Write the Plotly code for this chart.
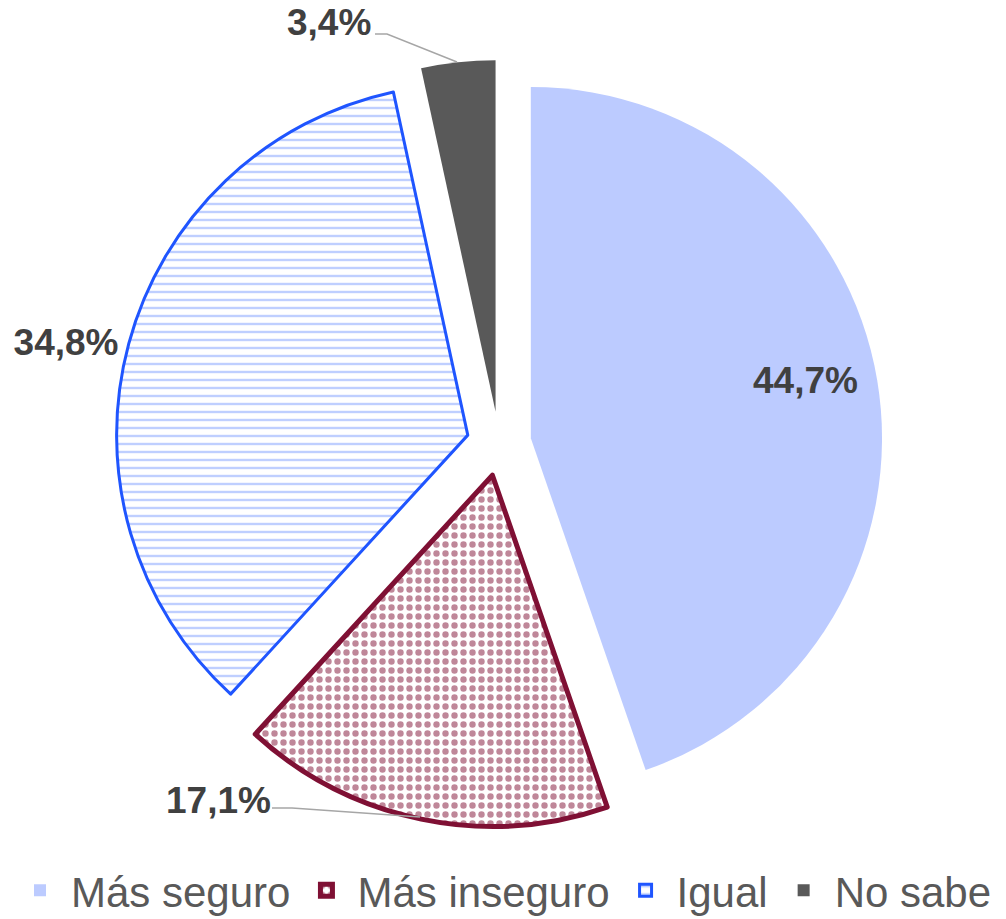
import plotly.graph_objects as go

categories = ["Más seguro", "Más inseguro", "Igual", "No sabe"]
values = [44.7, 17.1, 34.8, 3.4]

def fmt(v):
    return "<b>" + f"{v:.1f}".replace(".", ",") + "%</b>"

W, H = 1006, 919
def px(x, y):
    return x / W, 1 - y / H

FONT = "Liberation Sans, Arial"
LBL = dict(family=FONT, size=37, color="#404040")

fig = go.Figure()
fig.add_trace(go.Pie(
    labels=categories,
    values=values,
    sort=False,
    direction="clockwise",
    rotation=0,
    pull=[0.092] * 4,
    domain=dict(x=[0.1148, 0.8772], y=[0.1000, 0.9347]),
    text=[fmt(v) for v in values],
    texttemplate="%{text}",
    textposition=["none", "none", "outside", "none"],
    textfont=LBL,
    outsidetextfont=LBL,
    automargin=False,
    hoverinfo="label+percent",
    marker=dict(
        colors=["#bccbff", "#ffffff", "#ffffff", "#595959"],
        line=dict(color=["#bccbff", "#7f1034", "#1f55ff", "#595959"],
                  width=[0, 5, 3, 0]),
        pattern=dict(
            shape=["", ".", "-", ""],
            fgcolor=["#bccbff", "#7f1034", "#7f9fff", "#595959"],
            bgcolor=["#bccbff", "#ffffff", "#ffffff", "#595959"],
            size=[8, 9, 8, 8],
            solidity=[0.3, 0.4, 0.3, 0.3],
            fillmode="overlay",
        ),
    ),
))

# Labels placed like the reference (with leader lines for the small slices)
label_specs = [
    (0, (805, 380), []),
    (1, (218, 800), [(272, 808), (292, 808), (420, 817)]),
    (3, (329, 22), [(375, 34), (387, 34), (457, 62)]),
]
annotations = []
shapes = []
for idx, (tx, ty), pts in label_specs:
    ax_, ay_ = px(tx, ty)
    annotations.append(dict(
        x=ax_, y=ay_, xref="paper", yref="paper", showarrow=False,
        text=fmt(values[idx]), font=LBL,
        xanchor="center", yanchor="middle",
    ))
    if pts:
        path = ""
        for i, (x, y) in enumerate(pts):
            xp, yp = px(x, y)
            path += ("M" if i == 0 else "L") + f"{xp},{yp} "
        shapes.append(dict(type="path", xref="paper", yref="paper", path=path.strip(),
                           line=dict(color="#a6a6a6", width=1.5)))

fig.update_layout(
    width=W, height=H,
    margin=dict(l=0, r=0, t=0, b=0, autoexpand=False),
    paper_bgcolor="white",
    plot_bgcolor="white",
    separators=",.",
    annotations=annotations,
    shapes=shapes,
    showlegend=True,
    legend=dict(
        orientation="h",
        x=0.5, xanchor="center",
        y=-0.006, yanchor="bottom",
        font=dict(family=FONT, size=42, color="#595959"),
        itemwidth=52,
        traceorder="normal",
    ),
)

fig.write_html("out.html", config={"displayModeBar": False},
               post_script="document.body.style.margin='0';")
